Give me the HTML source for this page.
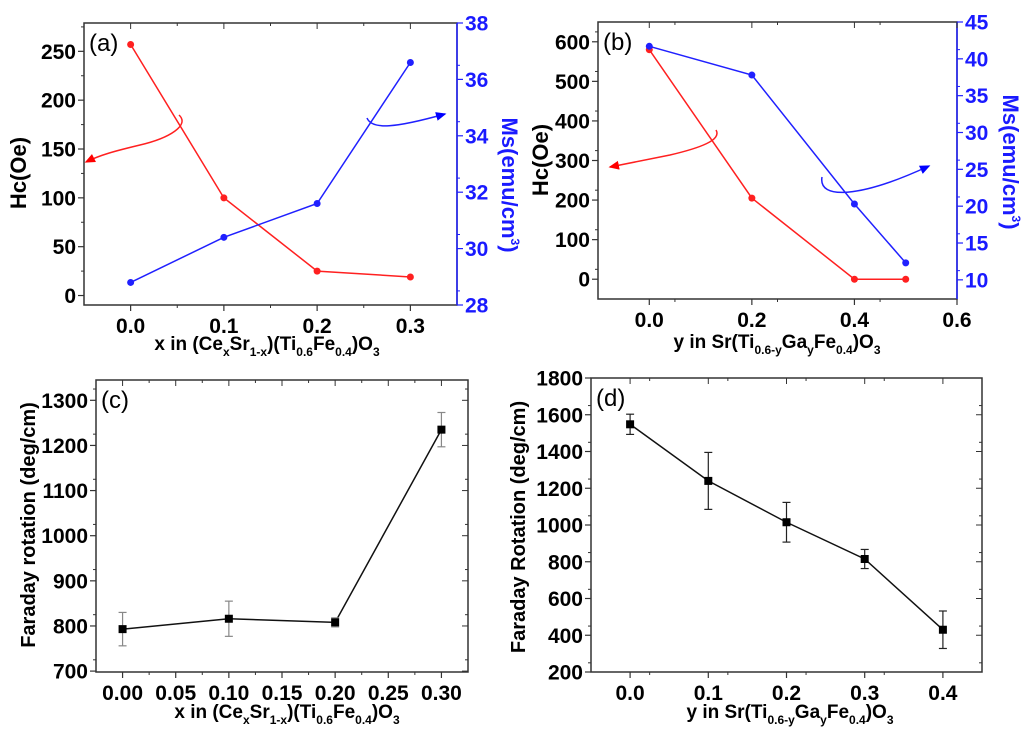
<!DOCTYPE html>
<html><head><meta charset="utf-8">
<style>
html,body{margin:0;padding:0;background:#fff;}
svg{display:block;font-family:"Liberation Sans",Arial,sans-serif;}
.tk{font-weight:bold;font-size:21px;}
.tt{font-weight:bold;font-size:19px;}
.yt{font-weight:bold;font-size:22px;}
.yf{font-weight:bold;font-size:20px;}
.pl{font-size:24px;}
</style></head>
<body>
<svg id="fig" width="1024" height="739" viewBox="0 0 1024 739"></svg>
<script>
// ---- data ----
const aX = [0.0, 0.1, 0.2, 0.3];
const aHc = [257, 100, 25, 19];
const aMs = [28.8, 30.4, 31.6, 36.6];
const bX = [0.0, 0.2, 0.4, 0.5];
const bHc = [580, 205, 0, 0];
const bMs = [41.7, 37.8, 20.3, 12.3];
const cX = [0.0, 0.1, 0.2, 0.3];
const cF = [793, 816, 808, 1235];
const cErr = [37, 39, 10, 38];
const dX = [0.0, 0.1, 0.2, 0.3, 0.4];
const dF = [1548, 1240, 1015, 815, 430];
const dErr = [55, 155, 108, 52, 102];
const aXTicks = ["0.0","0.1","0.2","0.3"];
const aYTicks = ["0","50","100","150","200","250"];
const aY2Ticks = ["28","30","32","34","36","38"];
const bXTicks = ["0.0","0.2","0.4","0.6"];
const bYTicks = ["0","100","200","300","400","500","600"];
const bY2Ticks = ["10","15","20","25","30","35","40","45"];
const cXTicks = ["0.00","0.05","0.10","0.15","0.20","0.25","0.30"];
const cYTicks = ["700","800","900","1000","1100","1200","1300"];
const dXTicks = ["0.0","0.1","0.2","0.3","0.4"];
const dYTicks = ["200","400","600","800","1000","1200","1400","1600","1800"];

const NS="http://www.w3.org/2000/svg";
const svg=document.getElementById('fig');
function el(tag,attrs,parent){const e=document.createElementNS(NS,tag);for(const k in attrs)e.setAttribute(k,attrs[k]);(parent||svg).appendChild(e);return e;}
function scale(d0,d1,r0,r1){return v=>r0+(v-d0)*(r1-r0)/(d1-d0);}

function panel(p){
  const g=el('g',{});
  
  
  const sx=scale(p.xd[0],p.xd[1],p.x0,p.x1), sy=scale(p.yd[0],p.yd[1],p.y1,p.y0);
  const box=el('rect',{x:p.x0,y:p.y0,width:p.x1-p.x0,height:p.y1-p.y0,fill:'none',stroke:'#333','stroke-width':1.5},g);
  
  if(p.y2d){el('line',{x1:p.x1,y1:p.y0,x2:p.x1,y2:p.y1,stroke:'#2020ff','stroke-width':1.5},g);}
  p.xt.forEach((t,i)=>{const v=parseFloat(t),x=sx(v);
    el('line',{x1:x,y1:p.y1,x2:x,y2:p.y1+6,stroke:'#333','stroke-width':1.2},g);
    el('line',{x1:x,y1:p.y0,x2:x,y2:p.y0+6,stroke:'#333','stroke-width':1},g);
    const tx=el('text',{x:x,y:p.y1+28,'text-anchor':'middle',class:'tk'},g);tx.textContent=t;
    
    if(i<p.xt.length-1){const mx=sx(v+p.xstep/2);
      el('line',{x1:mx,y1:p.y1,x2:mx,y2:p.y1+3,stroke:'#333'},g);el('line',{x1:mx,y1:p.y0,x2:mx,y2:p.y0+3,stroke:'#333'},g);}
  });
  p.yt.forEach((t,i)=>{const v=parseFloat(t),y=sy(v);
    el('line',{x1:p.x0-6,y1:y,x2:p.x0,y2:y,stroke:'#333','stroke-width':1.2},g);
    if(!p.y2d)el('line',{x1:p.x1-6,y1:y,x2:p.x1,y2:y,stroke:'#333'},g);
    const tx=el('text',{x:p.x0-8,y:y+7.5,'text-anchor':'end',class:'tk'},g);tx.textContent=t;
    
    const my=sy(v+p.ystep/2); if(my>p.y0){el('line',{x1:p.x0-3,y1:my,x2:p.x0,y2:my,stroke:'#333'},g);
      if(!p.y2d)el('line',{x1:p.x1-3,y1:my,x2:p.x1,y2:my,stroke:'#333'},g);}
  });
  let sy2=null;
  if(p.y2d){sy2=scale(p.y2d[0],p.y2d[1],p.y1,p.y0);
    p.y2t.forEach(t=>{const v=parseFloat(t),y=sy2(v);
      el('line',{x1:p.x1,y1:y,x2:p.x1+6,y2:y,stroke:'#2020ff','stroke-width':1.2},g);
      const tx=el('text',{x:p.x1+8,y:y+7.5,'text-anchor':'start',class:'tk',fill:'#1a1aff'},g);tx.textContent=t;
      
      const my=sy2(v+p.y2step/2); if(my>p.y0)el('line',{x1:p.x1,y1:my,x2:p.x1+3,y2:my,stroke:'#2020ff'},g);});
  }
  const lab=el('text',{x:p.x0+5,y:p.y0+28,class:'pl'},g);lab.textContent=p.label;
  
  return {g,sx,sy,sy2};
}
function series(ctx,xs,ys,scY,color,marker,name,errs){
  const g=el('g',{},ctx.g);
  
  const pts=xs.map((x,i)=>[ctx.sx(x),scY(ys[i])]);
  el('polyline',{points:pts.map(p=>p.join(',')).join(' '),fill:'none',stroke:color,'stroke-width':1.5},g);
  pts.forEach((p,i)=>{
    if(errs){const yt=scY(ys[i]+errs[i]),yb=scY(ys[i]-errs[i]),ec=marker==='sq-grey'?'#888':'#222';
      el('line',{x1:p[0],y1:yt,x2:p[0],y2:yb,stroke:ec,'stroke-width':1.2},g);
      el('line',{x1:p[0]-4,y1:yt,x2:p[0]+4,y2:yt,stroke:ec,'stroke-width':1.2},g);
      el('line',{x1:p[0]-4,y1:yb,x2:p[0]+4,y2:yb,stroke:ec,'stroke-width':1.2},g);}
    let m;
    if(marker==='dot')m=el('circle',{cx:p[0],cy:p[1],r:3.5,fill:color},g);
    else m=el('rect',{x:p[0]-4,y:p[1]-4,width:8,height:8,fill:'#000'},g);
    
  });
}
function text(x,y,parts,cls,name,rot,fill){
  const t=el('text',{x:x,y:y,class:cls,'text-anchor':'middle',fill:fill||'#000'});
  if(rot)t.setAttribute('transform',`rotate(${rot} ${x} ${y})`);
  let cur=0;
  parts.forEach(([s,m])=>{
    const target=m===1?6:(m===2?-9:0);
    const ts=el('tspan',{dy:target-cur},t);
    if(m)ts.setAttribute('font-size','12');
    ts.textContent=s;cur=target;
  });
  return t;
}
const xTitle=[["x in (Ce",0],["x",1],["Sr",0],["1-x",1],[")(Ti",0],["0.6",1],["Fe",0],["0.4",1],[")O",0],["3",1]];
const yTitle=[["y in Sr(Ti",0],["0.6-y",1],["Ga",0],["y",1],["Fe",0],["0.4",1],[")O",0],["3",1]];
const msTitle=[["Ms(emu/cm",0],["3",2],[")",0]];

const A=panel({name:'panel-a',label:'(a)',x0:84,x1:457,y0:23,y1:305,xd:[-0.05,0.35],yd:[-9.7,279],xt:aXTicks,xstep:0.1,yt:aYTicks,ystep:50,y2d:[28,38],y2t:aY2Ticks,y2step:1});
series(A,aX,aHc,A.sy,'#ff2020','dot','hc-series-a');
series(A,aX,aMs,A.sy2,'#2020ff','dot','ms-series-a');
const B=panel({name:'panel-b',label:'(b)',x0:598,x1:957,y0:22,y1:299,xd:[-0.1,0.6],yd:[-50,650],xt:bXTicks,xstep:0.1,yt:bYTicks,ystep:50,y2d:[7.4,45],y2t:bY2Ticks,y2step:2.5});
series(B,bX,bHc,B.sy,'#ff2020','dot','hc-series-b');
series(B,bX,bMs,B.sy2,'#2020ff','dot','ms-series-b');
const C=panel({name:'panel-c',label:'(c)',x0:96,x1:468,y0:380,y1:672,xd:[-0.025,0.325],yd:[698,1345],xt:cXTicks,xstep:0.05,yt:cYTicks,ystep:50});
series(C,cX,cF,C.sy,'#111','sq-grey','faraday-series-c',cErr);
const D=panel({name:'panel-d',label:'(d)',x0:591,x1:982,y0:378,y1:672,xd:[-0.05,0.45],yd:[200,1800],xt:dXTicks,xstep:0.05,yt:dYTicks,ystep:100});
series(D,dX,dF,D.sy,'#111','sq','faraday-series-d',dErr);

el('defs',{}).innerHTML='<marker id="ar" markerWidth="8" markerHeight="8" refX="6" refY="3" orient="auto"><path d="M0,0 L7,3 L0,6 z" fill="red"/></marker><marker id="ab" markerWidth="8" markerHeight="8" refX="6" refY="3" orient="auto"><path d="M0,0 L7,3 L0,6 z" fill="blue"/></marker>';
const arr=[['M179,115 C190,125 170,138 140,145 C115,151 100,155 86,162','#ff2020','ar','hc-arrow-a'],
['M367,118 C372,130 395,128 445,114','#2020ff','ab','ms-arrow-a'],
['M716,130 C722,140 700,148 670,155 C645,160 625,164 610,167','#ff2020','ar','hc-arrow-b'],
['M822,177 C818,200 860,198 929,166','#2020ff','ab','ms-arrow-b']];
arr.forEach(a=>{const p=el('path',{d:a[0],fill:'none',stroke:a[1],'stroke-width':1.5,'marker-end':`url(#${a[2]})`});
  });

text(267,350,xTitle,'tt','x-axis-title-a');
text(26,173,[["Hc(Oe)",0]],'yt','y-axis-title-a',-90);
text(502,185,msTitle,'yt','y2-axis-title-a',90,'#1a1aff');
text(777,348,yTitle,'tt','x-axis-title-b');
text(548,160,[["Hc(Oe)",0]],'yt','y-axis-title-b',-90);
text(1003,162,msTitle,'yt','y2-axis-title-b',90,'#1a1aff');
text(287,718,xTitle,'tt','x-axis-title-c');
text(35,525,[["Faraday rotation (deg/cm)",0]],'yf','y-axis-title-c',-90);
text(790,718,yTitle,'tt','x-axis-title-d');
text(525,527,[["Faraday Rotation (deg/cm)",0]],'yf','y-axis-title-d',-90);
</script>
</body></html>
